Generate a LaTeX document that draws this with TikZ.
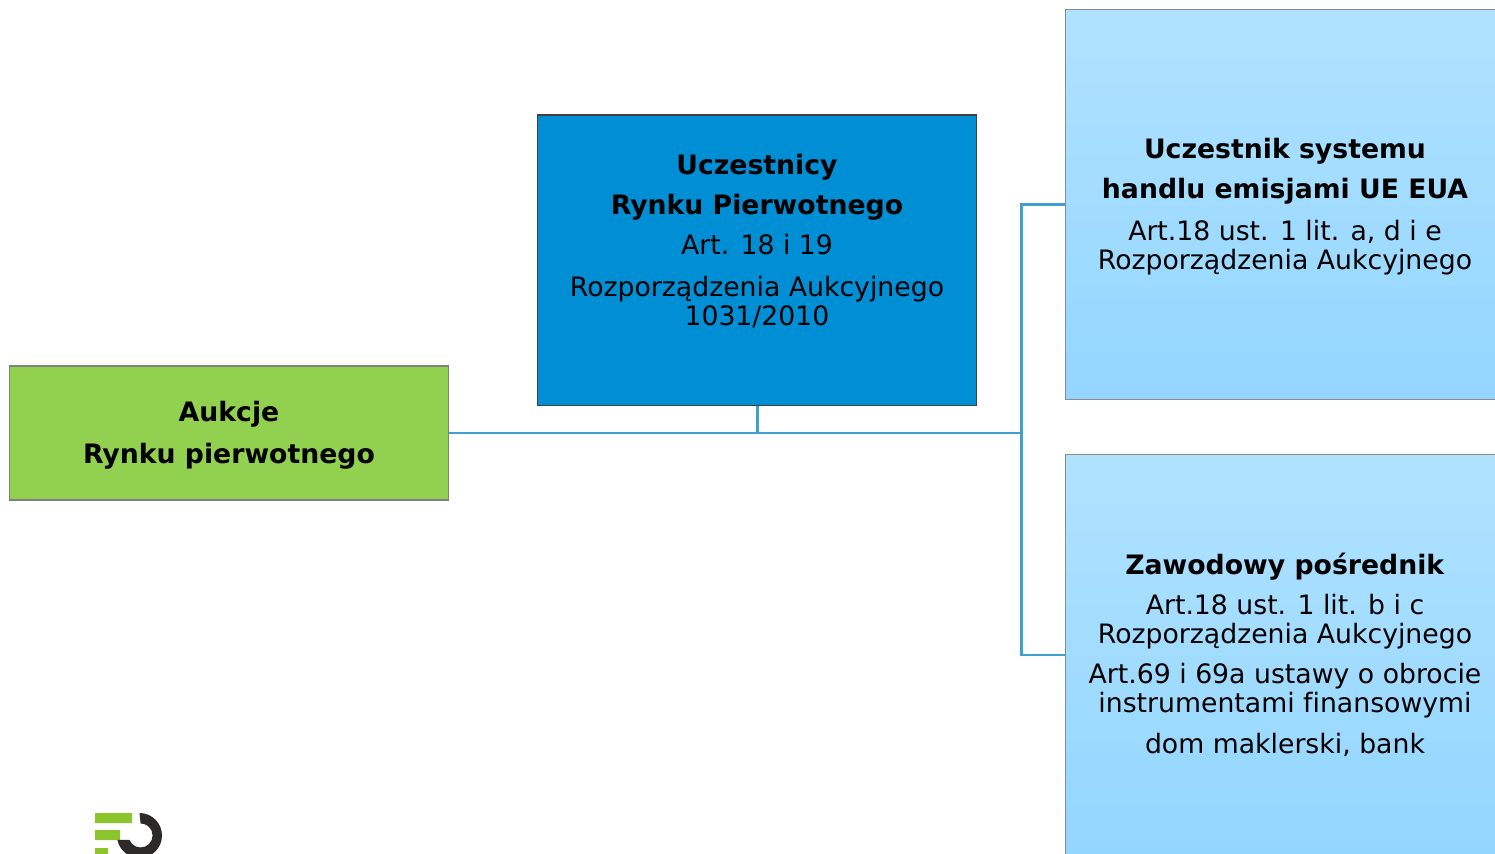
\documentclass[tikz,border=0pt]{standalone}
\usepackage{fontspec}
\setmainfont{DejaVu Sans}[Ligatures = NoCommon]
\definecolor{greenbox}{HTML}{92D050}
\definecolor{bluebox}{HTML}{008FD5}
\definecolor{paletop}{HTML}{B0E2FF}
\definecolor{palebottom}{HTML}{93D6FF}
\definecolor{linkblue}{HTML}{3F9FCF}
\definecolor{logogreen}{HTML}{8CC42C}
\definecolor{logodark}{HTML}{2C2A29}
\tikzset{
    box/.style = {draw, inner sep = 0pt, outer sep = 0pt, minimum width = 8.8cm, align = center,
        line width = 0.6pt, font = \fontsize{15.2pt}{0.58cm}\selectfont},
    greenpanel/.style = {box, fill = greenbox, draw = black!50, minimum height = 2.68cm},
    bluepanel/.style = {box, fill = bluebox, draw = black!75, minimum height = 5.82cm},
    palepanel/.style = {box, top color = paletop, bottom color = palebottom, draw = black!45},
    link/.style = {draw = linkblue, line width = 1.7pt}
}
\newcommand{\toprule}{\rule{0pt}{0.5cm}}
\begin{document}
\begin{tikzpicture}[x = 0.02cm, y = -0.02cm]
    \useasboundingbox (0, 0) rectangle (1495, 854);
    \clip (0, 0) rectangle (1495, 854);

    \node [greenpanel] (aukcje) at (229, 433)
        {\toprule\textbf{Aukcje}\\[0.25cm]\textbf{Rynku pierwotnego}};
    \node [bluepanel] (uczestnicy) at (757, 260.5)
        {\textbf{Uczestnicy}\\[0.22cm]\textbf{Rynku Pierwotnego}\\[0.23cm]Art. 18 i 19\\[0.26cm]Rozporządzenia Aukcyjnego\\1031/2010\\[0.25cm]\mbox{}};
    \node [palepanel, minimum height = 7.82cm] (system) at (1285, 204.5)
        {\toprule\textbf{Uczestnik systemu}\\[0.22cm]\textbf{handlu emisjami UE EUA}\\[0.26cm]Art.18 ust. 1 lit. a, d i e\\Rozporządzenia Aukcyjnego};
    \node [palepanel, minimum height = 8.04cm] (posrednik) at (1285, 655)
        {\textbf{Zawodowy pośrednik}\\[0.22cm]Art.18 ust. 1 lit. b i c\\Rozporządzenia Aukcyjnego\\[0.22cm]Art.69 i 69a ustawy o obrocie\\instrumentami finansowymi\\[0.24cm]dom maklerski, bank};

    \coordinate (rozgalezienie) at (1021, 433);
    \coordinate (logo) at (139.5, 835.5);

    \draw [link] (aukcje.east) -- (rozgalezienie);
    \draw [link] (uczestnicy.south) -- (uczestnicy.south |- aukcje.east);
    \draw [link] (system.west) -| (rozgalezienie);
    \draw [link] (posrednik.west) -| (rozgalezienie);

    \fill [logogreen]
        (95, 813) rectangle (132, 823)
        (95, 830) rectangle (120, 840)
        (95, 848) rectangle (108, 854)
    ;
    \fill [logodark]
        (logo) ++(90:0.45cm) arc [start angle = 90, end angle = -168.5, radius = 0.45cm]
        -- ++(0.24cm, 0) arc [start angle = -158, end angle = 90, radius = 0.24cm] -- cycle
    ;
\end{tikzpicture}
\end{document}
